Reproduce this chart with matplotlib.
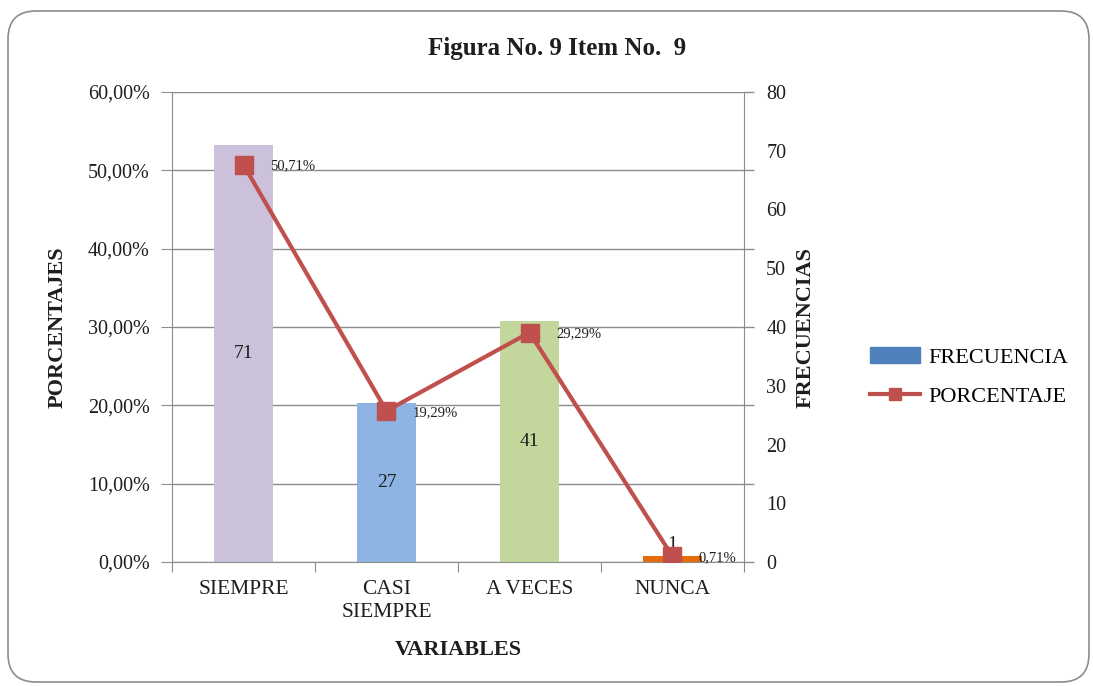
import matplotlib.pyplot as plt
import matplotlib.patches as patches
from matplotlib.lines import Line2D
from matplotlib.ticker import FixedLocator
from matplotlib.transforms import IdentityTransform
import numpy as np

plt.rcParams['font.family'] = ['Liberation Serif', 'DejaVu Serif']

# Datos del item 9
categorias = ['SIEMPRE', 'CASI\nSIEMPRE', 'A VECES', 'NUNCA']
frecuencias = [71, 27, 41, 1]
porcentajes = [50.71, 19.29, 29.29, 0.71]
colores_barras = ['#CCC1DA', '#8EB4E3', '#C3D69B', '#E46C0A']
ticks_pct = [0, 10, 20, 30, 40, 50, 60]
ticks_frec = [0, 10, 20, 30, 40, 50, 60, 70, 80]

c_linea = '#C0504D'
c_gris = '#8C8C8C'
c_texto = '#1E1E1E'

W, H = 1093, 686
fig = plt.figure(figsize=(W / 100, H / 100), dpi=100)
fig.patch.set_facecolor('white')

# marco redondeado del grafico
marco = patches.FancyBboxPatch((8, 4), 1081, 671,
                               boxstyle='round,pad=0,rounding_size=28',
                               transform=IdentityTransform(),
                               facecolor='none', edgecolor=c_gris, lw=1.2)
fig.add_artist(marco)

ax = fig.add_axes([172 / W, 1 - 562 / H, 572 / W, 470 / H])
ax2 = ax.twinx()
ax.set_zorder(ax2.get_zorder() + 1)
ax.patch.set_visible(False)

x = np.arange(len(categorias)) + 0.5

# barras de frecuencia (eje derecho)
ax2.bar(x, frecuencias, width=0.41, color=colores_barras, zorder=2)
ax2.set_ylim(0, 80)
ax2.set_yticks(ticks_frec)
ax2.set_yticklabels([str(t) for t in ticks_frec])
ax2.yaxis.set_minor_locator(FixedLocator(np.linspace(0, 80, len(ticks_pct))))
ax2.yaxis.remove_overlapping_locs = False
ax2.tick_params(axis='y', which='major', length=0, pad=16, labelsize=14.5, labelcolor=c_texto)
ax2.tick_params(axis='y', which='minor', length=7, direction='out', color=c_gris, width=1)
ax2.grid(which='minor', axis='y', color=c_gris, lw=1)
ax2.set_axisbelow(True)
for s in ['top', 'left', 'bottom']:
    ax2.spines[s].set_visible(False)
ax2.spines['right'].set_color(c_gris)
ax2.set_ylabel('FRECUENCIAS', fontsize=16, fontweight='bold', color=c_texto)
ax2.yaxis.set_label_coords(1.09, 0.5)

for xi, f in zip(x, frecuencias):
    if f >= 5:
        ax2.text(xi, f / 2, str(f), ha='center', va='center', fontsize=14, color=c_texto)
    else:
        ax2.annotate(str(f), (xi, f), xytext=(0, 2), textcoords='offset points',
                     ha='center', va='bottom', fontsize=14, color=c_texto)

# linea de porcentajes (eje izquierdo)
ax.plot(x, porcentajes, color=c_linea, lw=3, marker='s', ms=13, zorder=3)
for xi, p in zip(x, porcentajes):
    ax.annotate(f'{p:.2f}%'.replace('.', ','), (xi, p), xytext=(19, -1),
                textcoords='offset points', ha='left', va='center',
                fontsize=10.5, color=c_texto)

ax.set_xlim(0, len(categorias))
ax.set_ylim(0, 60)
ax.set_yticks(ticks_pct)
ax.set_yticklabels([f'{t:.2f}%'.replace('.', ',') for t in ticks_pct])
ax.tick_params(axis='y', length=8, direction='out', color=c_gris, pad=8,
               labelsize=14.5, labelcolor=c_texto)
ax.set_xticks(np.arange(len(categorias) + 1))
ax.set_xticklabels([])
ax.set_xticks(x, minor=True)
ax.set_xticklabels(categorias, minor=True)
ax.tick_params(axis='x', which='major', length=7, direction='out', color=c_gris)
ax.tick_params(axis='x', which='minor', length=0, pad=13, labelsize=15.5, labelcolor=c_texto)
for lab in ax.get_xticklabels(minor=True):
    lab.set_linespacing(1.3)
for s in ['top', 'right']:
    ax.spines[s].set_visible(False)
ax.spines['left'].set_color(c_gris)
ax.spines['bottom'].set_color(c_gris)

ax.set_ylabel('PORCENTAJES', fontsize=16, fontweight='bold', color=c_texto)
ax.yaxis.set_label_coords(-0.183, 0.5)
ax.set_xlabel('VARIABLES', fontsize=16, fontweight='bold', color=c_texto)
ax.xaxis.set_label_coords(0.5, -0.165)

fig.text(557 / W, 1 - 49 / H, 'Figura No. 9 Item No.  9', ha='center', va='center',
         fontsize=18, fontweight='bold', color=c_texto)

handles = [patches.Patch(color='#4F81BD'),
           Line2D([], [], color=c_linea, lw=3, marker='s', ms=9)]
fig.legend(handles, ['FRECUENCIA', 'PORCENTAJE'], loc='center left',
           bbox_to_anchor=(870 / W, 1 - 377 / H), frameon=False, fontsize=16,
           handlelength=2.25, handletextpad=0.36, labelspacing=0.85,
           borderpad=0, borderaxespad=0)

fig.savefig('out.png', dpi=100)
